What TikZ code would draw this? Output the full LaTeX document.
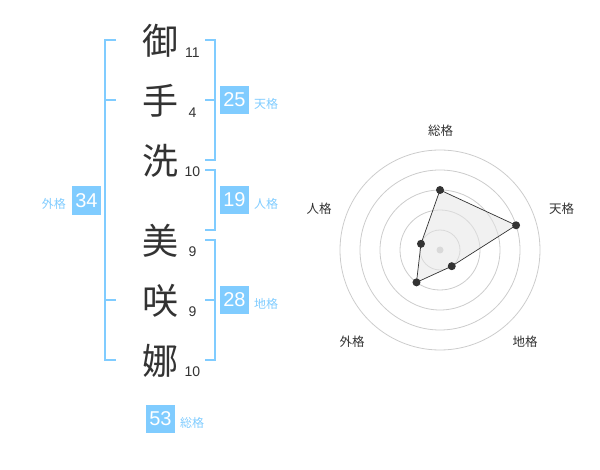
\documentclass[tikz,border=0pt]{standalone}
\usepackage{fontspec}
\setmainfont{Liberation Sans}
\newfontfamily\cjk{Noto Sans CJK JP}
\definecolor{skyb}{RGB}{128,204,255}
\definecolor{ink}{RGB}{51,51,51}
\definecolor{ring}{RGB}{204,204,204}
\begin{document}
\begin{tikzpicture}[x=1pt,y=-1pt,
  kanji/.style={font=\cjk\fontsize{36}{36}\selectfont,text=ink,inner sep=0pt,anchor=center},
  strokes/.style={font=\fontsize{14}{14}\selectfont,text=ink,inner sep=0pt},
  scorebox/.style={fill=skyb,text=white,font=\fontsize{20}{20}\selectfont,minimum width=28.5pt,minimum height=28.5pt,inner sep=0pt},
  kakulabel/.style={font=\cjk\fontsize{12}{12}\selectfont,text=skyb,inner sep=0pt},
  radarlabel/.style={font=\cjk\fontsize{12.5}{12.5}\selectfont,text=ink,inner sep=0pt},
  bracket/.style={draw=skyb,line width=2pt},
  dot/.style={circle,fill=ink,inner sep=0pt,minimum size=8pt}
]
\useasboundingbox (0,0) rectangle (600,470);
% kanji
\node[kanji] (k1) at (160,41) {御};
\node[kanji] (k2) at (160,101) {手};
\node[kanji] (k3) at (160,161) {洗};
\node[kanji] (k4) at (160,241) {美};
\node[kanji] (k5) at (160,301) {咲};
\node[kanji] (k6) at (160,361) {娜};
% stroke counts
\node[strokes] (n1) at (192.5,52.5) {11};
\node[strokes] (n2) at (192.5,112.5) {4};
\node[strokes] (n3) at (192.5,172) {10};
\node[strokes] (n4) at (192.5,252) {9};
\node[strokes] (n5) at (192.5,312) {9};
\node[strokes] (n6) at (192.5,372) {10};
% brackets
\draw[bracket] (116,40) -- (105,40) -- (105,360) -- (116,360);
\draw[bracket] (105,100) -- (116,100);
\draw[bracket] (105,300) -- (116,300);
\draw[bracket] (205,40) -- (215,40) -- (215,160) -- (205,160);
\draw[bracket] (205,100) -- (215,100);
\draw[bracket] (205,170) -- (215,170) -- (215,230) -- (205,230);
\draw[bracket] (205,240) -- (215,240) -- (215,360) -- (205,360);
\draw[bracket] (205,300) -- (215,300);
% score boxes
\node[scorebox] (ten) at (234.5,100) {25};
\node[kakulabel,anchor=west] (tenl) at (254,104) {天格};
\node[scorebox] (jin) at (234.5,200) {19};
\node[kakulabel,anchor=west] (jinl) at (254,204) {人格};
\node[scorebox] (chi) at (234.5,300) {28};
\node[kakulabel,anchor=west] (chil) at (254,304) {地格};
\node[scorebox] (gai) at (86.5,200.5) {34};
\node[kakulabel,anchor=east] (gail) at (66,203.5) {外格};
\node[scorebox] (sou) at (160.5,419) {53};
\node[kakulabel,anchor=west] (soul) at (180,423) {総格};
% radar
\begin{scope}[shift={(440,250)},yscale=-1]
  \foreach \r in {20,40,60,80,100} \draw[ring,line width=0.8pt] (0,0) circle[radius=\r];
  \fill[ring] (0,0) circle[radius=3.5];
  \coordinate (pS) at (90:60);
  \coordinate (pT) at (18:80);
  \coordinate (pC) at (-54:20);
  \coordinate (pG) at (-126:40);
  \coordinate (pJ) at (162:20);
  \filldraw[fill=black!10,fill opacity=0.55,draw=ink,line width=0.7pt] (pS) -- (pT) -- (pC) -- (pG) -- (pJ) -- cycle;
  \foreach \p in {pS,pT,pC,pG,pJ} \node[dot] at (\p) {};
\end{scope}
\node[radarlabel] (rS) at (440.5,131) {総格};
\node[radarlabel] (rT) at (561.5,208.5) {天格};
\node[radarlabel] (rC) at (525,342) {地格};
\node[radarlabel] (rG) at (352,342) {外格};
\node[radarlabel] (rJ) at (319,208.5) {人格};
\end{tikzpicture}
\end{document}
